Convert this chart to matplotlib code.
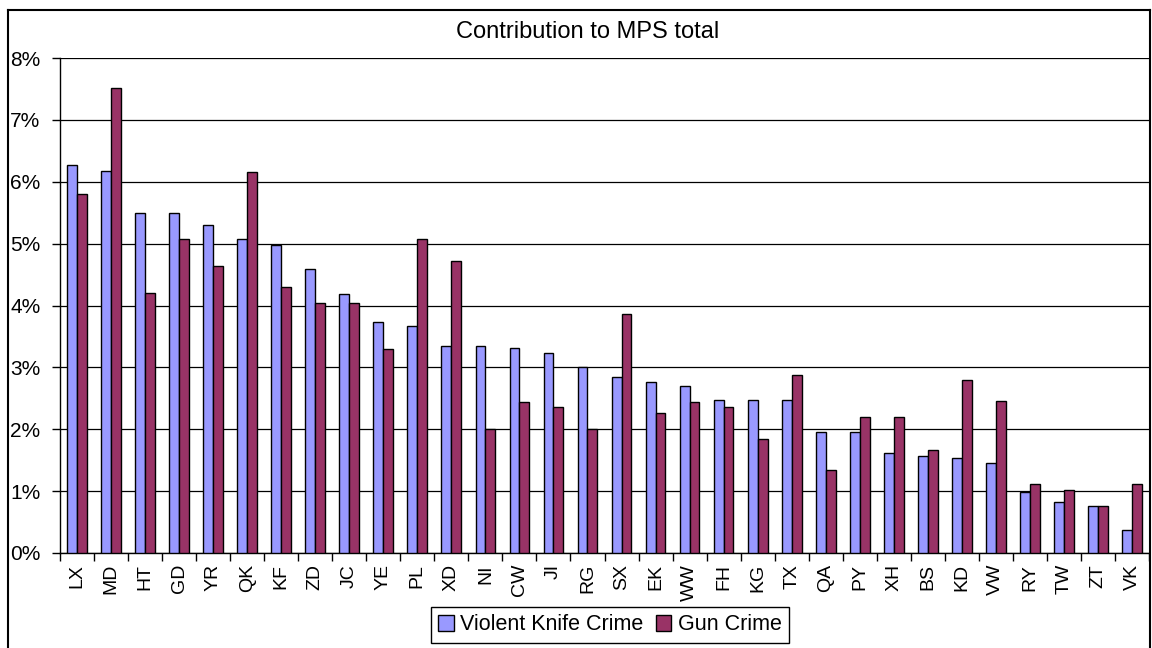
import matplotlib
matplotlib.use("Agg")
import matplotlib.pyplot as plt
import numpy as np
from matplotlib.ticker import FuncFormatter, MultipleLocator
from matplotlib.lines import Line2D

plt.rcParams['font.family'] = ['Liberation Sans', 'DejaVu Sans']

# station codes, ordered as in the chart
codes = ["LX", "MD", "HT", "GD", "YR", "QK", "KF", "ZD", "JC", "YE", "PL", "XD", "NI", "CW",
         "JI", "RG", "SX", "EK", "WW", "FH", "KG", "TX", "QA", "PY", "XH", "BS", "KD", "VW",
         "RY", "TW", "ZT", "VK"]

# share of MPS total, in percent
knife = [6.27, 6.18, 5.50, 5.50, 5.30, 5.07, 4.98, 4.59, 4.19, 3.73, 3.67, 3.35, 3.35, 3.32,
         3.24, 3.01, 2.84, 2.76, 2.70, 2.48, 2.48, 2.48, 1.96, 1.96, 1.62, 1.56, 1.54, 1.45,
         0.99, 0.82, 0.76, 0.37]
gun = [5.81, 7.52, 4.21, 5.07, 4.64, 6.15, 4.30, 4.04, 4.04, 3.30, 5.07, 4.72, 2.01, 2.44,
       2.36, 2.01, 3.87, 2.27, 2.44, 2.36, 1.84, 2.87, 1.34, 2.19, 2.19, 1.67, 2.79, 2.45,
       1.11, 1.02, 0.76, 1.11]

blue = "#9999FF"
plum = "#993366"

fig = plt.figure(figsize=(11.52, 6.48), dpi=100)
ax = fig.add_axes([60 / 1152, 1 - 553 / 648, 1089 / 1152, 495 / 648])

x = np.arange(len(codes))
w = 0.29
ax.bar(x - w / 2, knife, w, color=blue, edgecolor="black", linewidth=1.0, zorder=3)
ax.bar(x + w / 2, gun, w, color=plum, edgecolor="black", linewidth=1.0, zorder=3)

ax.set_xlim(-0.5, len(codes) - 0.5)
ax.set_ylim(0, 8)
ax.yaxis.set_major_locator(MultipleLocator(1))
ax.yaxis.set_major_formatter(FuncFormatter(lambda v, p: f"{v:.0f}%"))
ax.grid(axis="y", color="black", linewidth=0.9, zorder=0)

# category labels between boundary ticks
ax.set_xticks(x)
ax.set_xticklabels(codes, rotation=90, fontsize=14)
ax.tick_params(axis="x", length=0, pad=8)
ax.set_xticks(np.arange(-0.5, len(codes)), minor=True)
ax.tick_params(axis="x", which="minor", length=6, width=1, color="black", direction="out")
ax.tick_params(axis="y", labelsize=15, length=6, width=1, direction="out", pad=8)

for s in ["top", "right"]:
    ax.spines[s].set_visible(False)
ax.spines["left"].set_linewidth(1)
ax.spines["bottom"].set_linewidth(1)

fig.text(588 / 1152, 1 - 32 / 648, "Contribution to MPS total", ha="center", va="center", fontsize=17)

handles = [
    plt.Rectangle((0, 0), 1, 1, facecolor=blue, edgecolor="black", linewidth=1),
    plt.Rectangle((0, 0), 1, 1, facecolor=plum, edgecolor="black", linewidth=1),
]
leg = fig.legend(handles, ["Violent Knife Crime", "Gun Crime"], loc="center",
                 bbox_to_anchor=(610 / 1152, 1 - 625 / 648), ncol=2, fontsize=15.5,
                 fancybox=False, framealpha=1, edgecolor="black", handlelength=0.7,
                 handleheight=0.7, handletextpad=0.3, columnspacing=0.6,
                 borderpad=0.35, borderaxespad=0)
leg.get_frame().set_linewidth(1)

# outer chart frame
fx0, fy0, fx1 = 8 / 1152, 1 - 10 / 648, 1150 / 1152
fig.add_artist(Line2D([fx0, fx0], [0, fy0], color="black", linewidth=1.5, transform=fig.transFigure))
fig.add_artist(Line2D([fx0, fx1], [fy0, fy0], color="black", linewidth=1.5, transform=fig.transFigure))
fig.add_artist(Line2D([fx1, fx1], [0, fy0], color="black", linewidth=1.5, transform=fig.transFigure))

fig.savefig("out.png", dpi=100)
